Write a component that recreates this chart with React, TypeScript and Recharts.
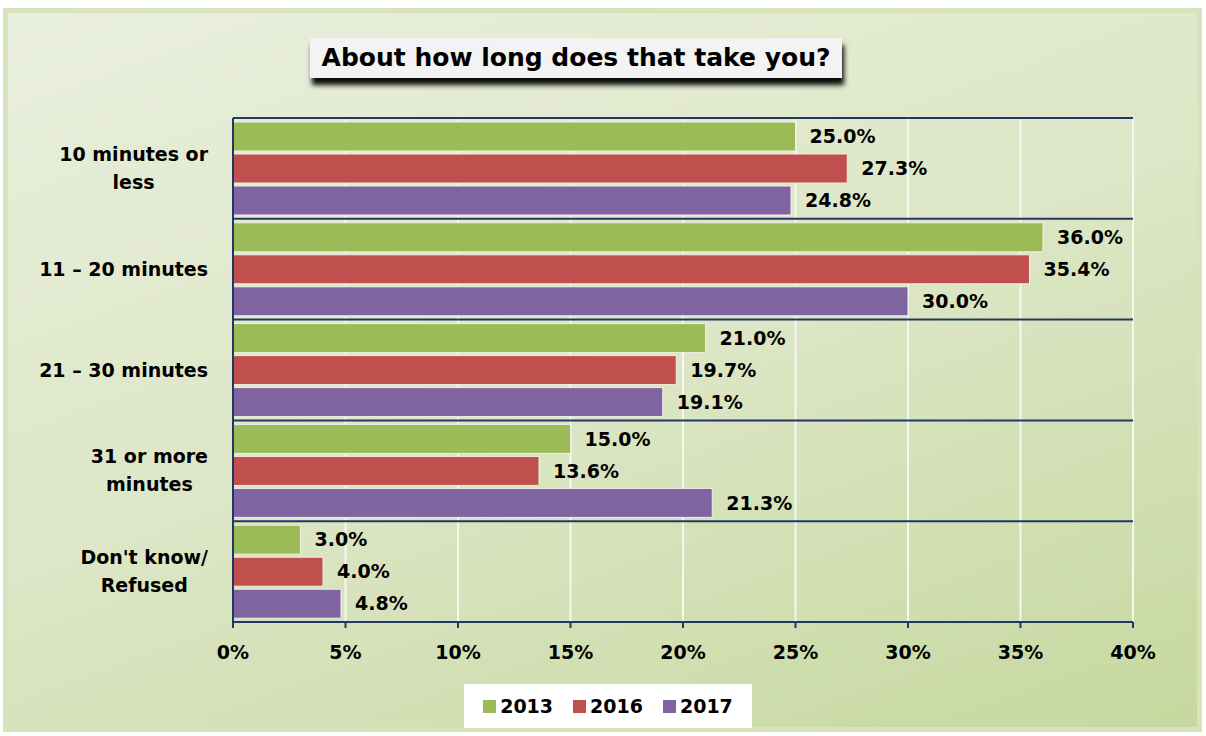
import React from 'react'
import {
    BarChart,
    Bar,
    XAxis,
    YAxis,
    CartesianGrid,
    LabelList
} from 'recharts'

const categories = ['10 minutes or\nless', '11 – 20 minutes', '21 – 30 minutes', '31 or more\nminutes', "Don't know/\nRefused"]
const values2013 = [25.0, 36.0, 21.0, 15.0, 3.0]
const values2016 = [27.3, 35.4, 19.7, 13.6, 4.0]
const values2017 = [24.8, 30.0, 19.1, 21.3, 4.8]
const xTicks = [0, 5, 10, 15, 20, 25, 30, 35, 40]

const series = [
    { key: 'y2013', label: '2013', color: '#9bbb59', values: values2013 },
    { key: 'y2016', label: '2016', color: '#c0504d', values: values2016 },
    { key: 'y2017', label: '2017', color: '#8064a2', values: values2017 }
]

const data = categories.map((name, i) => {
    const row: { [key: string]: string | number } = { name }
    series.forEach((s) => { row[s.key] = s.values[i] })
    return row
})

const FONT = "'DejaVu Sans', 'Open Sans', sans-serif"
const NAVY = '#1f3864'

let ctx: CanvasRenderingContext2D | null = null
const measure = (text: string) => {
    if (!ctx) ctx = document.createElement('canvas').getContext('2d')
    if (!ctx) return text.length * 10
    ctx.font = `bold 19px ${FONT}`
    return ctx.measureText(text).width
}

const CategoryTick = ({ x, y, payload }: any) => {
    const lines: string[] = String(payload.value).split('\n')
    const maxW = Math.max(...lines.map(measure))
    const cx = x - maxW / 2
    const startY = y - ((lines.length - 1) * 28) / 2
    return (
        <g>
            {lines.map((line, i) => (
                <text
                    key={i}
                    x={lines.length > 1 ? cx : x}
                    y={startY + i * 28}
                    dy="0.35em"
                    textAnchor={lines.length > 1 ? 'middle' : 'end'}
                    fontFamily={FONT}
                    fontWeight="bold"
                    fontSize={19}
                    fill="#000"
                >
                    {line}
                </text>
            ))}
        </g>
    )
}

export default function App() {
    return (
        <div style={{ position: 'absolute', left: 0, top: 0, width: 1206, height: 736, background: '#fff', fontFamily: FONT }}>
            <div
                style={{
                    position: 'absolute',
                    left: 3,
                    top: 8,
                    width: 1199,
                    height: 724,
                    boxSizing: 'border-box',
                    border: '5px solid #d6e3bb',
                    background: 'linear-gradient(160deg, #e9efdd 0%, #dde6c6 50%, #c6d89f 100%)'
                }}
            />
            <div
                style={{
                    position: 'absolute',
                    left: 310,
                    top: 38,
                    width: 532,
                    height: 40,
                    background: '#f3f3f3',
                    boxShadow: '2px 7px 5px rgba(0,0,0,0.95)',
                    fontWeight: 'bold',
                    fontSize: 25,
                    lineHeight: '40px',
                    textAlign: 'center',
                    color: '#000'
                }}
            >
                About how long does that take you?
            </div>
            <div style={{ position: 'absolute', left: 0, top: 0 }}>
                <BarChart
                    width={1206}
                    height={736}
                    data={data}
                    layout="vertical"
                    barSize={29}
                    barGap={3}
                    margin={{ top: 118, right: 73, bottom: 74, left: 0 }}
                >
                    <CartesianGrid horizontal={false} stroke="#f6f8ef" strokeWidth={2} />
                    <CartesianGrid
                        vertical={false}
                        stroke={NAVY}
                        strokeWidth={2}
                        horizontalCoordinatesGenerator={({ offset }: any) =>
                            categories.map((_, i) => offset.top + (i * offset.height) / categories.length).concat([offset.top + offset.height])
                        }
                    />
                    <XAxis
                        type="number"
                        domain={[0, 40]}
                        ticks={xTicks}
                        tickFormatter={(v) => `${v}%`}
                        height={40}
                        axisLine={{ stroke: NAVY, strokeWidth: 2 }}
                        tickLine={{ stroke: NAVY, strokeWidth: 2 }}
                        tickSize={6}
                        tickMargin={18}
                        tick={{ fill: '#000', fontSize: 19, fontWeight: 'bold', fontFamily: FONT }}
                    />
                    <YAxis
                        type="category"
                        dataKey="name"
                        width={233}
                        axisLine={{ stroke: NAVY, strokeWidth: 2 }}
                        tickLine={false}
                        tickSize={0}
                        tickMargin={25}
                        tick={<CategoryTick />}
                        interval={0}
                    />
                    {series.map((s) => (
                        <Bar
                            key={s.key}
                            dataKey={s.key}
                            name={s.label}
                            fill={s.color}
                            stroke="#eef1e2"
                            strokeWidth={1}
                            isAnimationActive={false}
                        >
                            <LabelList
                                dataKey={s.key}
                                position="right"
                                offset={14}
                                formatter={(v: any) => `${Number(v).toFixed(1)}%`}
                                fill="#000"
                                fontSize={19}
                                fontWeight="bold"
                                fontFamily={FONT}
                            />
                        </Bar>
                    ))}
                </BarChart>
            </div>
            <div
                style={{
                    position: 'absolute',
                    left: 464,
                    top: 684,
                    width: 288,
                    height: 44,
                    background: '#fff',
                    display: 'flex',
                    alignItems: 'center',
                    justifyContent: 'center',
                    gap: 20
                }}
            >
                {series.map((s) => (
                    <div key={s.key} style={{ display: 'flex', alignItems: 'center', gap: 4 }}>
                        <span style={{ display: 'inline-block', width: 13, height: 13, background: s.color }} />
                        <span style={{ fontWeight: 'bold', fontSize: 19, color: '#000' }}>{s.label}</span>
                    </div>
                ))}
            </div>
        </div>
    )
}
